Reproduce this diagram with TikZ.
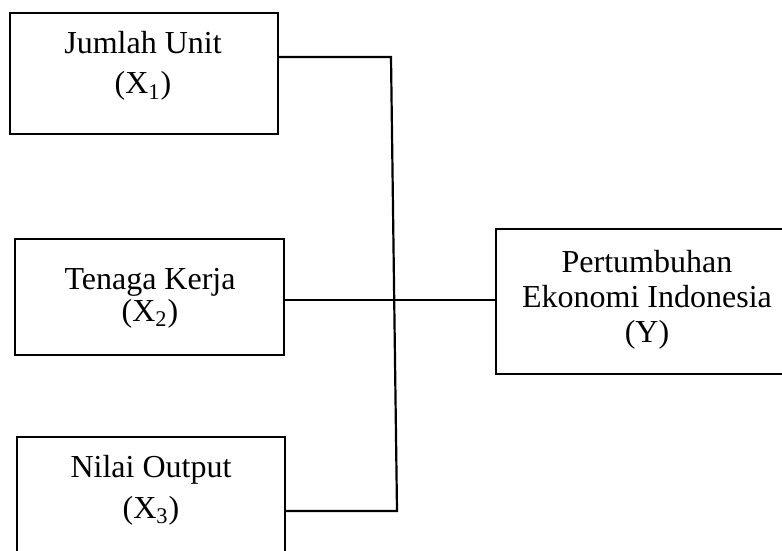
\documentclass[tikz,border=0pt]{standalone}
\usepackage{fontspec}
\setmainfont{Liberation Serif}
\usepackage{xcolor}
\usepackage{tikz}
\usetikzlibrary{positioning}
\definecolor{kerangkaInk}{HTML}{000000}
\tikzset{
  kerangkaBox/.style={
    draw=kerangkaInk,
    line width=1.2pt,
    inner sep=0pt,
    minimum width=134pt
  },
  kerangkaText/.style={
    align=center,
    inner sep=0pt,
    anchor=base,
    text=kerangkaInk
  },
  kerangkaLink/.style={
    draw=kerangkaInk,
    line width=1.1pt
  }
}

\begin{document}
\begin{tikzpicture}[x=0.5pt, y=-0.5pt]
\useasboundingbox (0,0) rectangle (782,551);
\clip (0,0) rectangle (782,551);
% variabel bebas
\node[kerangkaBox, minimum height=60.5pt] (unit) at (144,73.5) {};
\node[kerangkaBox, minimum width=134.5pt, minimum height=58pt] (kerja) at (149.5,297) {};
\node[kerangkaBox, minimum height=61.5pt] (output) at (151,498.5) {};
% variabel terikat
\node[kerangkaBox, minimum width=151pt, minimum height=72.5pt] (ekonomi) at (647,301.5) {};

% teks: titik base = baris terakhir
\node[kerangkaText, font=\fontsize{16}{20}\selectfont] (unitText) at (143,94)
  {Jumlah Unit\\(X\textsubscript{1})};
\node[kerangkaText, font=\fontsize{16}{16}\selectfont] (kerjaText) at (150,321)
  {Tenaga Kerja\\(X\textsubscript{2})};
\node[kerangkaText, font=\fontsize{16}{20.5}\selectfont] (outputText) at (151,518)
  {Nilai Output\\(X\textsubscript{3})};
\node[kerangkaText, font=\fontsize{16}{17.5}\selectfont] (ekonomiText) at (647,342)
  {Pertumbuhan\\Ekonomi Indonesia\\(Y)};

\coordinate (jTop) at (391,57);
\coordinate (jMid) at (395,300);
\coordinate (jBot) at (397,511);

\draw[kerangkaLink] (unit.east |- jTop) -- (jTop) -- (jBot) -- (output.east |- jBot);
\draw[kerangkaLink] (kerja.east |- jMid) -- (ekonomi.west |- jMid);
\end{tikzpicture}
\end{document}
